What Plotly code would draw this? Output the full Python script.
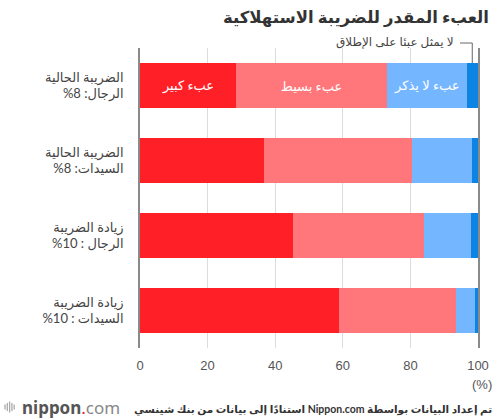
import plotly.graph_objects as go

# فئات المحور الرأسي (الرقم أولًا حتى يظهر على اليسار في SVG)
categories = [
    "الضريبة الحالية<br>%8 :الرجال",
    "الضريبة الحالية<br>%8 :السيدات",
    "زيادة الضريبة<br>%10 : الرجال",
    "زيادة الضريبة<br>%10 : السيدات",
]

series_names = ["عبء كبير", "عبء بسيط", "عبء لا يذكر", "لا يمثل عبئا على الإطلاق"]
heavy = [28.4, 36.7, 45.3, 58.8]
light = [44.7, 43.8, 38.6, 34.7]
minor = [23.5, 17.7, 14.0, 5.5]
none_ = [3.4, 1.8, 2.1, 1.0]

colors = ["#ff1f27", "#ff777a", "#74b6ff", "#0b84e3"]
x_ticks = [0, 20, 40, 60, 80, 100]

AR_FONT = "Lato, DejaVu Sans, sans-serif"

# المصدر مقسوم إلى جزأين لضبط الترتيب المرئي
source_first = "تم إعداد البيانات بواسطة"
source_second = "استنادًا إلى بيانات من بنك شينسي"


# تحويل بكسل الصورة إلى إحداثيات الورقة (منطقة الرسم 140..478 × 48..348)
def px(x):
    return (x - 140) / 338


def py(y):
    return (348 - y) / 300


fig = go.Figure()
for i, (name, vals, col) in enumerate(zip(series_names, [heavy, light, minor, none_], colors)):
    # النص داخل الأعمدة يظهر في العمود الأول فقط
    txt = [name] + [""] * (len(vals) - 1) if i < 3 else None
    fig.add_trace(
        go.Bar(
            y=categories,
            x=vals,
            name=name,
            orientation="h",
            marker=dict(color=col, line=dict(width=0)),
            text=txt,
            textposition="inside",
            insidetextanchor="middle",
            textfont=dict(color="white", size=13, family=AR_FONT),
            hoverinfo="skip",
        )
    )

fig.update_layout(
    width=500,
    height=420,
    barmode="stack",
    bargap=0.4,
    showlegend=False,
    plot_bgcolor="white",
    paper_bgcolor="white",
    margin=dict(l=140, r=22, t=48, b=72),
    font=dict(family=AR_FONT, color="#444"),
    uniformtext=dict(mode="show", minsize=10),
)

fig.update_xaxes(
    range=[0, 100],
    tickvals=x_ticks,
    showgrid=True,
    gridcolor="#dcdcdc",
    gridwidth=1,
    zeroline=False,
    tickfont=dict(size=13, color="#555", family="Liberation Sans, Arial"),
    ticks="",
    ticklabelstandoff=8,
)
fig.update_yaxes(
    autorange="reversed",
    showline=True,
    mirror=True,
    linecolor="#8a8a8a",
    linewidth=1.5,
    ticks="",
    ticklabelstandoff=12,
    tickfont=dict(size=13, color="#444", family=AR_FONT),
)

# العنوان
fig.add_annotation(
    text="<b>العبء المقدر للضريبة الاستهلاكية</b>",
    xref="paper", yref="paper", x=px(491), y=py(17), xanchor="right", yanchor="middle",
    showarrow=False, font=dict(size=16.5, color="#333", family=AR_FONT),
)

# الخط الإرشادي للفئة الأخيرة
fig.add_shape(type="line", xref="x", yref="paper", x0=98.3, x1=98.3,
              y0=py(43), y1=py(63), line=dict(color="#666", width=1))
fig.add_shape(type="line", xref="x", yref="paper", x0=94.7, x1=98.3,
              y0=py(43), y1=py(43), line=dict(color="#666", width=1))
fig.add_annotation(
    text=series_names[3],
    xref="paper", yref="paper", x=px(456), y=py(42), xanchor="right", yanchor="middle",
    showarrow=False, font=dict(size=12, color="#444", family=AR_FONT),
)

# وحدة المحور
fig.add_annotation(
    text="(%)", xref="paper", yref="paper", x=px(494), y=py(384),
    xanchor="right", yanchor="middle", showarrow=False,
    font=dict(size=13, color="#555", family="Liberation Sans, Arial"),
)

# المصدر
fig.add_annotation(
    text="<b>" + source_second + " Nippon.com " + source_first + "</b>",
    xref="paper", yref="paper", x=px(494), y=py(409), xanchor="right", yanchor="middle",
    showarrow=False, font=dict(size=10.5, color="#333", family=AR_FONT),
)

# الشعار
fig.add_annotation(
    text="<b>nippon</b><span style='color:#e8202a'>.</span><span style='color:#888'>com</span>",
    xref="paper", yref="paper", x=px(20), y=py(407), xanchor="left", yanchor="middle",
    showarrow=False, font=dict(size=17, color="#555", family="Noto Sans, Liberation Sans"),
)
for i, h in enumerate([5, 8, 11, 8, 5]):
    xx = px(5 + i * 2.3)
    fig.add_shape(type="line", xref="paper", yref="paper",
                  x0=xx, x1=xx, y0=py(407 - h / 2), y1=py(407 + h / 2),
                  line=dict(color="#aaa", width=1.3))

fig.write_html("out.html", config={"displayModeBar": False},
               post_script="document.body.style.margin='0';")
